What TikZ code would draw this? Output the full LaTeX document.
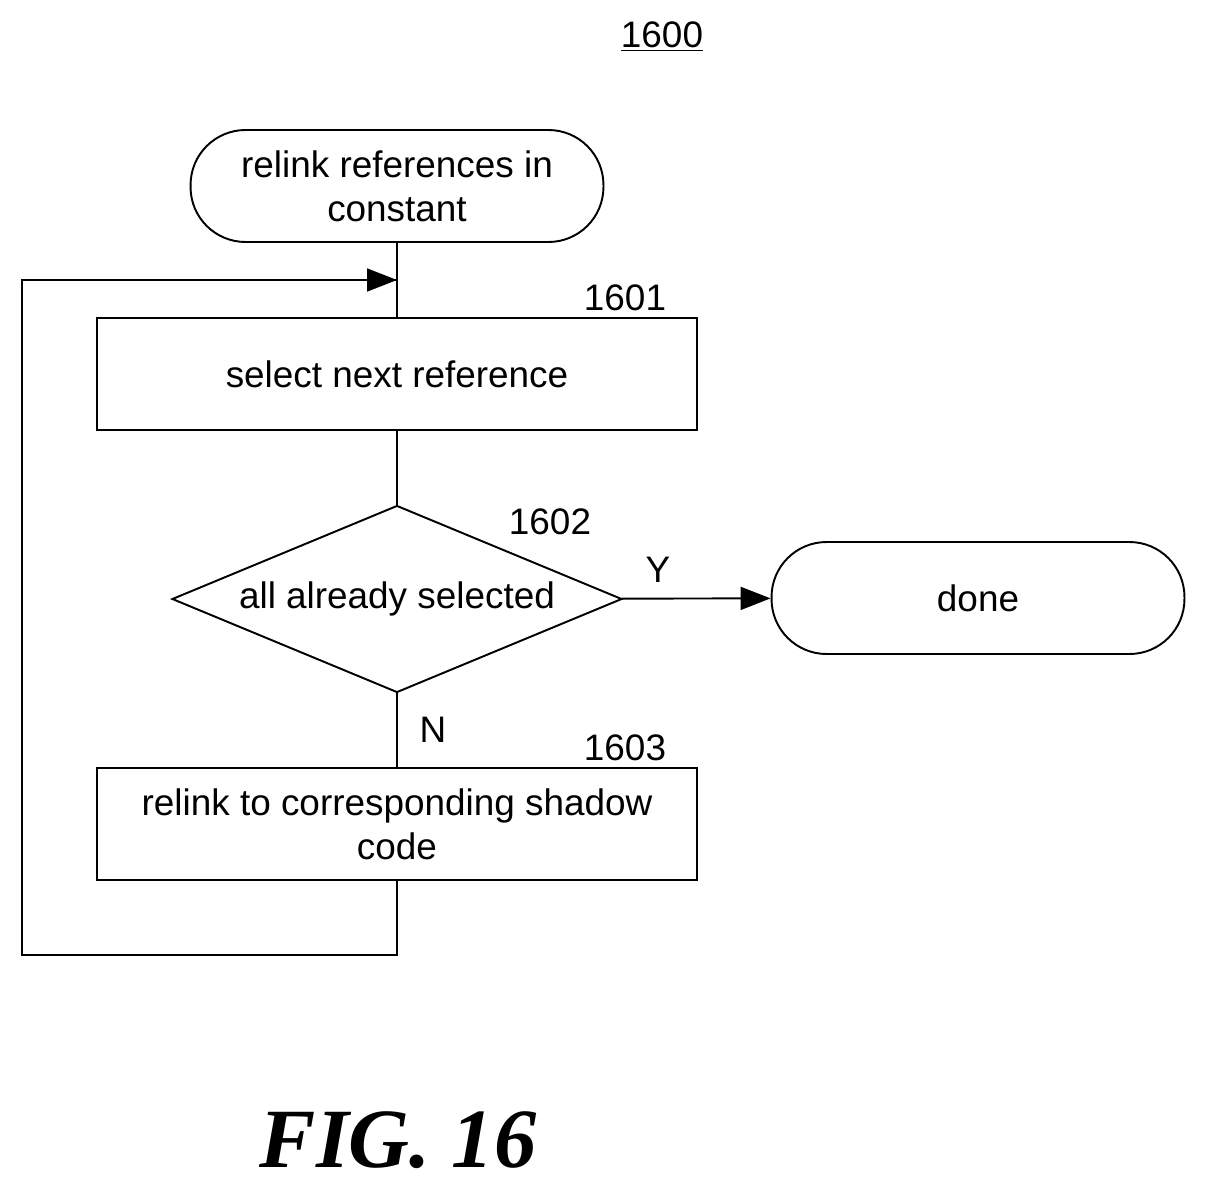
\documentclass[tikz,border=0pt]{standalone}
\usepackage{fontspec}
\setmainfont{Liberation Sans}
\newfontfamily\figfont{Liberation Serif}
\usetikzlibrary{shapes.geometric,arrows.meta,positioning}

\begin{document}
\begin{tikzpicture}[x=0.02cm,y=-0.02cm,
% Step styles
		terminal/.style={rectangle
							    , rounded corners=1.1cm
							    , draw=black, line width=1.1pt
							    , minimum width=8.26cm
							    , minimum height=2.24cm
							    , align=center
							    , font=\fontsize{21}{25}\selectfont},
		action/.style={rectangle
							    , draw=black, line width=1.1pt
							    , minimum width=12.02cm
							    , minimum height=2.24cm
							    , align=center
							    , font=\fontsize{21}{25}\selectfont},
		test/.style={diamond
							    , draw=black, line width=1.1pt
							    , aspect=2.4
							    , inner sep=0pt
							    , minimum width=9cm
							    , minimum height=3.74cm
							    , font=\fontsize{21}{25}\selectfont},
		tag/.style={font=\fontsize{21}{25}\selectfont},
% Connector style
		flow/.style={line width=1.1pt, -{Triangle[length=17pt,width=13pt]}},
		link/.style={line width=1.1pt}
	]
	\useasboundingbox (0,0) rectangle (1206,1190);
%% Steps
	\node [tag] (fignum) at (662,37) {\underline{1600}};
	\node [terminal] (start) at (397,186) {relink references in\\constant};
	\node [action] (s1601) at (397,374) {select next reference};
	\node [test] (s1602) at (397,599) {all already selected};
	\node [terminal] (done) at (978,598) {done};
	\node [action] (s1603) at (397,824) {relink to corresponding shadow\\code};
%% Reference numbers
	\node [tag] (l1601) at (625,298) {1601};
	\node [tag] (l1602) at (550,522) {1602};
	\node [tag] (l1603) at (625,748) {1603};
	\node [tag] (ly) at (658,570) {Y};
	\node [tag] (ln) at (433,730) {N};
%% Connectors
	\coordinate (join) at (397,280);
	\coordinate (back) at (397,955);
	\draw [link] (start) -- (s1601);
	\draw [link] (s1601) -- (s1602);
	\draw [flow] (s1602) -- (done);
	\draw [link] (s1602) -- (s1603);
	\draw [link] (s1603) -- (back) -- (22,955) -- (22,280) -- (join);
	\draw [flow] (22,280) -- (join);
%% Caption
	\node (caption) at (398,1140) {\figfont\bfseries\itshape\fontsize{48}{52}\selectfont FIG. 16};
\end{tikzpicture}
\end{document}
